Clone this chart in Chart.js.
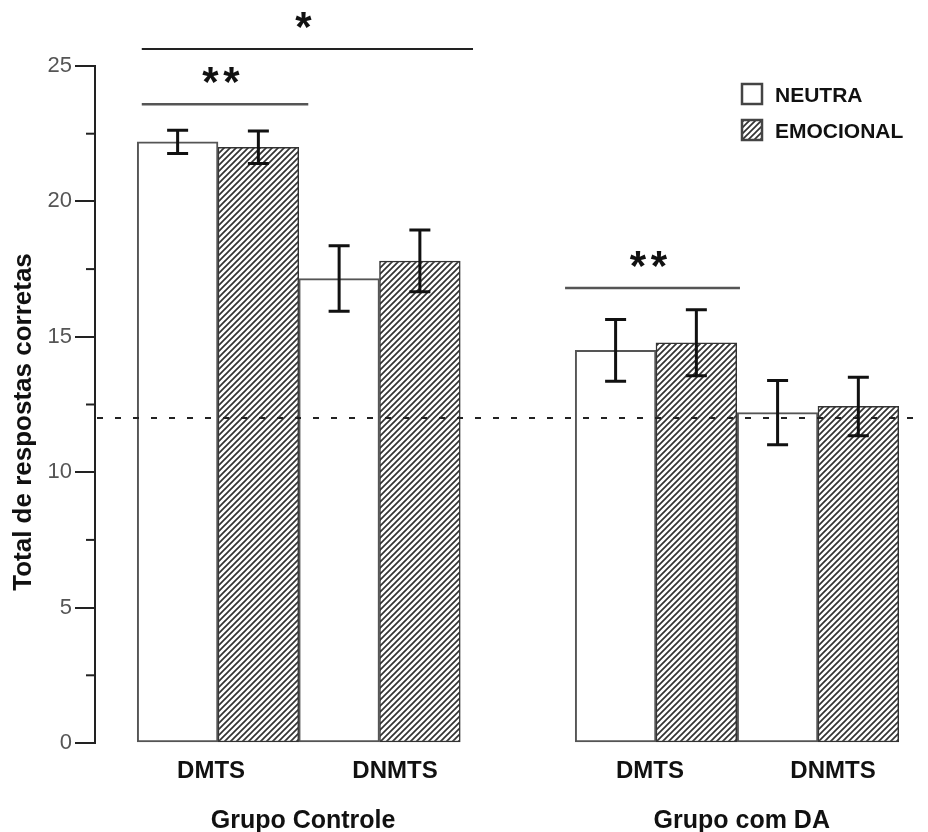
<!DOCTYPE html>
<html>
<head>
<meta charset="utf-8">
<script src="https://cdn.jsdelivr.net/npm/chart.js@4"></script>
<style>
  body { margin: 0; background: #fff; }
</style>
</head>
<body>
<canvas id="chart" width="928" height="832"></canvas>
<script>
// data
var conditions = ['DMTS', 'DNMTS', 'DMTS', 'DNMTS'];
var groups = ['Grupo Controle', 'Grupo com DA'];
var seriesNames = ['NEUTRA', 'EMOCIONAL'];
var neutra = [22.2, 17.15, 14.5, 12.2];
var neutraErr = [0.43, 1.21, 1.14, 1.19];
var emocional = [22.0, 17.8, 14.78, 12.43];
var emocionalErr = [0.6, 1.14, 1.22, 1.08];
var yTicks = [0, 5, 10, 15, 20, 25];
var chanceLevel = 12;

// where the conditions sit on the x axis (bar pairs), and where labels sit
var barPos = [1, 2, 3.712, 4.715];
var labelPos = [0.957, 2.096, 3.675, 4.808];
var groupPos = [1.527, 4.243];

// significance brackets: x from, x to, y level, stars
var brackets = [
    [0.528, 2.579, 25.63, 1],
    [0.528, 1.559, 23.59, 2],
    [3.149, 4.232, 16.8, 2]
];

var FONT = "'Liberation Sans', Arial, sans-serif";

function makeHatch() {
    var c = document.createElement('canvas');
    c.width = 6;
    c.height = 6;
    var g = c.getContext('2d');
    g.fillStyle = '#fff';
    g.fillRect(0, 0, 6, 6);
    g.strokeStyle = '#333';
    g.lineWidth = 1.7;
    g.beginPath();
    g.moveTo(0, 6); g.lineTo(6, 0);
    g.moveTo(-1, 1); g.lineTo(1, -1);
    g.moveTo(5, 7); g.lineTo(7, 5);
    g.stroke();
    return document.getElementById('chart').getContext('2d').createPattern(c, 'repeat');
}
var hatch = makeHatch();

function points(values) {
    return values.map(function (v, i) { return { x: barPos[i], y: v }; });
}

var extras = {
    id: 'extras',
    afterDatasetsDraw: function (chart) {
        var ctx = chart.ctx;
        var x = chart.scales.x;
        var y = chart.scales.y;
        var area = chart.chartArea;
        ctx.save();

        // chance level dashed line
        ctx.strokeStyle = '#222';
        ctx.lineWidth = 2;
        ctx.setLineDash([6, 12]);
        ctx.beginPath();
        ctx.moveTo(area.left + 2, y.getPixelForValue(chanceLevel));
        ctx.lineTo(area.right, y.getPixelForValue(chanceLevel));
        ctx.stroke();
        ctx.setLineDash([]);

        // error bars
        var errs = [neutraErr, emocionalErr];
        chart.data.datasets.forEach(function (ds, d) {
            var meta = chart.getDatasetMeta(d);
            meta.data.forEach(function (bar, i) {
                var v = ds.data[i].y;
                var top = y.getPixelForValue(v + errs[d][i]);
                var bot = y.getPixelForValue(v - errs[d][i]);
                ctx.strokeStyle = '#111';
                ctx.lineWidth = 3;
                ctx.beginPath();
                ctx.moveTo(bar.x, top); ctx.lineTo(bar.x, bot);
                ctx.moveTo(bar.x - 10.5, top); ctx.lineTo(bar.x + 10.5, top);
                ctx.moveTo(bar.x - 10.5, bot); ctx.lineTo(bar.x + 10.5, bot);
                ctx.stroke();
            });
        });

        // minor ticks on y axis
        ctx.strokeStyle = '#222';
        ctx.lineWidth = 2;
        for (var t = 2.5; t < 25; t += 5) {
            var py = y.getPixelForValue(t);
            ctx.beginPath();
            ctx.moveTo(area.left - 9, py); ctx.lineTo(area.left, py);
            ctx.stroke();
        }

        // significance brackets
        brackets.forEach(function (b, k) {
            var x1 = x.getPixelForValue(b[0]);
            var x2 = x.getPixelForValue(b[1]);
            var py = y.getPixelForValue(b[2]);
            ctx.strokeStyle = k === 0 ? '#222' : '#555';
            ctx.lineWidth = k === 0 ? 2 : 2.5;
            ctx.beginPath();
            ctx.moveTo(x1, py); ctx.lineTo(x2, py);
            ctx.stroke();
            ctx.fillStyle = '#111';
            ctx.font = 'bold 42px ' + FONT;
            ctx.textAlign = 'center';
            ctx.textBaseline = 'alphabetic';
            var mid = (x1 + x2) / 2 - 4;
            for (var s = 0; s < b[3]; s++) {
                var sx = mid + (s - (b[3] - 1) / 2) * 21;
                ctx.fillText('*', sx, py - 8);
            }
        });

        // legend
        var fills = ['#fff', hatch];
        var boxes = [84, 120];
        var texts = [96, 132];
        for (var j = 0; j < 2; j++) {
            ctx.fillStyle = fills[j];
            ctx.fillRect(742, boxes[j], 20, 20);
            ctx.strokeStyle = '#444';
            ctx.lineWidth = 2.5;
            ctx.strokeRect(742, boxes[j], 20, 20);
            ctx.fillStyle = '#111';
            ctx.font = 'bold 21px ' + FONT;
            ctx.textAlign = 'left';
            ctx.textBaseline = 'middle';
            ctx.fillText(seriesNames[j], 775, texts[j]);
        }

        // y axis title
        ctx.translate(24, 422);
        ctx.rotate(-Math.PI / 2);
        ctx.fillStyle = '#111';
        ctx.font = 'bold 26px ' + FONT;
        ctx.textAlign = 'center';
        ctx.textBaseline = 'middle';
        ctx.fillText('Total de respostas corretas', 0, 0);
        ctx.restore();
    }
};

var ctx = document.getElementById('chart').getContext('2d');
new Chart(ctx, {
    type: 'bar',
    data: {
        datasets: [{
            label: seriesNames[0],
            data: points(neutra),
            backgroundColor: '#fff',
            borderColor: '#555',
            borderWidth: 2,
            borderSkipped: false
        }, {
            label: seriesNames[1],
            data: points(emocional),
            backgroundColor: hatch,
            borderColor: '#333',
            borderWidth: 1.5,
            borderSkipped: false
        }]
    },
    options: {
        responsive: false,
        animation: false,
        barPercentage: 1,
        categoryPercentage: 1,
        layout: { padding: { top: 66, right: 10, left: 0, bottom: 0 } },
        plugins: {
            legend: { display: false },
            tooltip: { enabled: false }
        },
        scales: {
            x: {
                type: 'linear',
                offset: false,
                min: 0.2384,
                max: 5.3344,
                grid: { display: false, offset: false },
                border: { display: false },
                afterBuildTicks: function (scale) {
                    scale.ticks = labelPos.map(function (v) { return { value: v }; });
                },
                afterFit: function (scale) { scale.height = 40; },
                ticks: {
                    autoSkip: false,
                    maxRotation: 0,
                    padding: 6,
                    color: '#111',
                    font: { family: FONT, size: 24, weight: 'bold' },
                    callback: function (v, i) { return conditions[i]; }
                }
            },
            x2: {
                type: 'linear',
                position: 'bottom',
                offset: false,
                min: 0.2384,
                max: 5.3344,
                grid: { display: false, offset: false },
                border: { display: false },
                afterBuildTicks: function (scale) {
                    scale.ticks = groupPos.map(function (v) { return { value: v }; });
                },
                afterFit: function (scale) { scale.height = 49; },
                ticks: {
                    autoSkip: false,
                    maxRotation: 0,
                    padding: 15,
                    color: '#111',
                    font: { family: FONT, size: 25, weight: 'bold' },
                    callback: function (v, i) { return groups[i]; }
                }
            },
            y: {
                min: 0,
                max: 25,
                afterFit: function (scale) { scale.width = 95; },
                afterBuildTicks: function (scale) {
                    scale.ticks = yTicks.map(function (v) { return { value: v }; });
                },
                grid: {
                    drawOnChartArea: false,
                    drawTicks: true,
                    tickLength: 20,
                    color: '#222',
                    lineWidth: 2
                },
                border: { display: true, color: '#222', width: 2 },
                ticks: {
                    padding: 3,
                    color: '#555',
                    font: { family: FONT, size: 22 }
                }
            }
        }
    },
    plugins: [extras]
});
</script>
</body>
</html>
